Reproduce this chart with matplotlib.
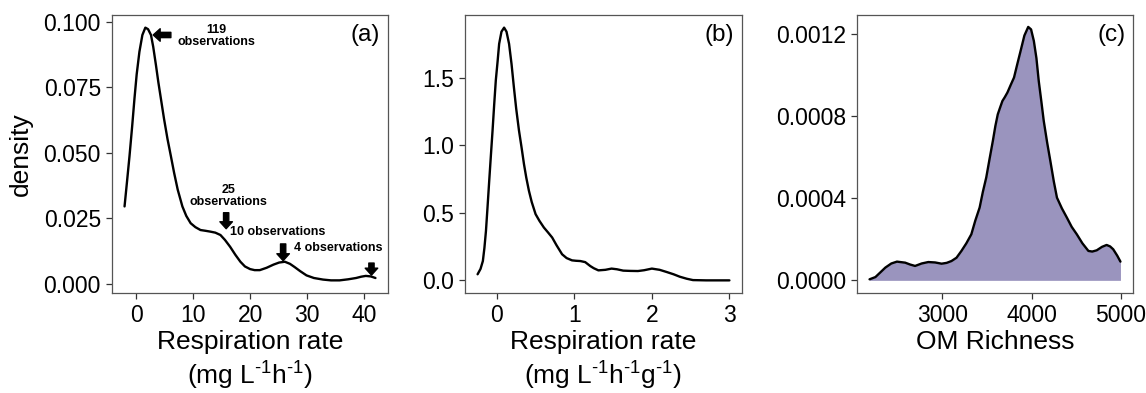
import matplotlib
matplotlib.use('Agg')
import matplotlib.pyplot as plt

plt.rcParams['font.family'] = ['Liberation Sans', 'DejaVu Sans']
plt.rcParams['mathtext.fontset'] = 'custom'
plt.rcParams['mathtext.rm'] = 'Liberation Sans'
plt.rcParams['mathtext.default'] = 'regular'

# (a) respiration rate, mg L-1 h-1
resp_x = [-2.03, -1.6, -1.16, -0.7, -0.29, 0.1, 0.58, 1.1, 1.62, 2.1, 2.61, 3.0, 3.48, 3.9,
          4.35, 4.9, 5.51, 6.1, 6.67, 7.3, 8.12, 8.8, 9.57, 10.4, 11.3, 12.2, 13.0, 13.9,
          14.8, 15.6, 16.5, 17.4, 18.3, 19.1, 20.0, 20.8, 21.7, 22.9, 24.1, 25.1, 26.1,
          27.0, 27.8, 28.8, 29.9, 31.2, 32.8, 34.2, 35.7, 37.2, 38.6, 39.5, 40.3, 41.2, 42.0]
resp_y = [0.0296, 0.0390, 0.0488, 0.0600, 0.0707, 0.0800, 0.0886, 0.0950, 0.0978, 0.0972,
          0.0950, 0.0905, 0.0835, 0.0770, 0.0707, 0.0630, 0.0553, 0.0488, 0.0424, 0.0360,
          0.0296, 0.0260, 0.0232, 0.0217, 0.0206, 0.0203, 0.0200, 0.0196, 0.0187, 0.0168,
          0.0142, 0.0112, 0.0085, 0.0067, 0.0057, 0.0053, 0.0053, 0.0062, 0.0074, 0.0082,
          0.0085, 0.0077, 0.0065, 0.0049, 0.0033, 0.0023, 0.0017, 0.0014, 0.0014, 0.0018,
          0.0023, 0.0028, 0.0031, 0.0029, 0.0023]

# (b) respiration rate per gram, mg L-1 h-1 g-1
respg_x = [-0.248, -0.21, -0.18, -0.16, -0.14, -0.12, -0.098, -0.077, -0.055, -0.034, -0.013,
           0.01, 0.03, 0.06, 0.094, 0.125, 0.158, 0.19, 0.22, 0.25, 0.286, 0.32, 0.35, 0.38,
           0.414, 0.45, 0.5, 0.55, 0.607, 0.66, 0.714, 0.77, 0.842, 0.9, 0.97, 1.02, 1.077,
           1.14, 1.205, 1.25, 1.31, 1.4, 1.48, 1.55, 1.63, 1.72, 1.82, 1.9, 2.0, 2.1, 2.19,
           2.28, 2.36, 2.45, 2.53, 2.7, 2.85, 3.0]
respg_y = [0.045, 0.085, 0.143, 0.24, 0.366, 0.54, 0.737, 0.92, 1.108, 1.30, 1.48,
           1.62, 1.75, 1.84, 1.87, 1.84, 1.75, 1.60, 1.43, 1.27, 1.108, 0.98, 0.861, 0.76,
           0.663, 0.58, 0.49, 0.44, 0.391, 0.355, 0.317, 0.26, 0.193, 0.165, 0.148, 0.145, 0.143,
           0.135, 0.106, 0.09, 0.074, 0.078, 0.087, 0.082, 0.072, 0.070, 0.069, 0.075, 0.087,
           0.078, 0.062, 0.045, 0.027, 0.012, 0.002, 0.0, 0.0, 0.0]

# (c) OM richness
om_x = [2186, 2252, 2310, 2363, 2430, 2493, 2585, 2640, 2696, 2770, 2844, 2920, 2993, 3050,
        3104, 3160, 3215, 3270, 3326, 3370, 3419, 3455, 3493, 3530, 3567, 3595, 3622, 3648,
        3674, 3700, 3730, 3767, 3804, 3840, 3878, 3920, 3963, 3995, 4026, 4055, 4081, 4110,
        4137, 4175, 4211, 4250, 4285, 4340, 4396, 4450, 4507, 4570, 4637, 4680, 4730, 4790,
        4841, 4880, 4915, 4960, 4996]
om_y = [0.000005, 0.000016, 0.000040, 0.000062, 0.000082, 0.000091, 0.000086, 0.000077,
        0.000070, 0.000082, 0.000089, 0.000087, 0.000081, 0.000085, 0.000094, 0.000110,
        0.000143, 0.000180, 0.000224, 0.000290, 0.000354, 0.000430, 0.000500, 0.000590,
        0.000678, 0.000750, 0.000807, 0.000840, 0.000872, 0.000890, 0.000913, 0.000950,
        0.000986, 0.001050, 0.001116, 0.001190, 0.001232, 0.001220, 0.001164, 0.001080,
        0.000969, 0.000870, 0.000775, 0.000670, 0.000580, 0.000480, 0.000402, 0.000350,
        0.000305, 0.000260, 0.000224, 0.000180, 0.000143, 0.000140, 0.000146, 0.000163,
        0.000172, 0.000165, 0.000151, 0.000120, 0.000091]

# annotations in (a): text, text position, arrow tail, arrow tip, alignment
notes = [
    ('119\nobservations', (14.1, 0.0946), (6.1, 0.095), (3.0, 0.095), 'center'),
    ('25\nobservations', (16.2, 0.0335), (15.8, 0.0272), (15.8, 0.0211), 'center'),
    ('10 observations', (16.5, 0.0197), (25.8, 0.0153), (25.8, 0.0089), 'left'),
    ('4 observations', (27.7, 0.0136), (41.3, 0.0080), (41.3, 0.0034), 'left'),
]

fig = plt.figure(figsize=(11.46, 3.93), dpi=100)
ax_a = fig.add_axes([112 / 1146, 100 / 393, 276 / 1146, 278 / 393])
ax_b = fig.add_axes([465 / 1146, 100 / 393, 277 / 1146, 278 / 393])
ax_c = fig.add_axes([857 / 1146, 100 / 393, 276 / 1146, 278 / 393])

line_kw = dict(color='black', lw=1.7, solid_capstyle='round', solid_joinstyle='round')
ax_a.plot(resp_x, resp_y, **line_kw)
ax_b.plot(respg_x, respg_y, **line_kw)
ax_c.fill_between(om_x, 0, om_y, color='#9a94be', lw=0)
ax_c.plot(om_x, om_y, **line_kw)

for txt, tpos, tail, tip, ha in notes:
    ax_a.text(tpos[0], tpos[1], txt, ha=ha, va='center', fontsize=9,
              fontweight='bold', linespacing=0.95)
    ax_a.annotate('', xy=tip, xytext=tail,
                  arrowprops=dict(arrowstyle='simple,head_length=0.5,head_width=0.9,tail_width=0.38',
                                  color='black', mutation_scale=10, shrinkA=0, shrinkB=0))

ax_a.set_yticks([0, 0.025, 0.05, 0.075, 0.1])
ax_a.set_yticklabels(['0.000', '0.025', '0.050', '0.075', '0.100'])
ax_a.set_xticks([0, 10, 20, 30, 40])
ax_b.set_yticks([0, 0.5, 1.0, 1.5])
ax_b.set_yticklabels(['0.0', '0.5', '1.0', '1.5'])
ax_b.set_xticks([0, 1, 2, 3])
ax_c.set_yticks([0, 0.0004, 0.0008, 0.0012])
ax_c.set_yticklabels(['0.0000', '0.0004', '0.0008', '0.0012'])
ax_c.set_xticks([3000, 4000, 5000])
ax_c.set_ylim(-0.0000615, 0.00129)

hy = '\u2010'
ax_a.set_ylabel('density', fontsize=19, labelpad=8)
ax_a.set_xlabel(f'Respiration rate\n(mg L$^{{{hy}1}}$h$^{{{hy}1}}$)',
                fontsize=19, linespacing=1.22, labelpad=2)
ax_b.set_xlabel(f'Respiration rate\n(mg L$^{{{hy}1}}$h$^{{{hy}1}}$g$^{{{hy}1}}$)',
                fontsize=19, linespacing=1.22, labelpad=2)
ax_c.set_xlabel('OM Richness', fontsize=19, labelpad=2)

for ax, tag in zip([ax_a, ax_b, ax_c], ['(a)', '(b)', '(c)']):
    ax.text(0.972, 0.928, tag, transform=ax.transAxes, ha='right', va='center', fontsize=17.5)
    for s in ax.spines.values():
        s.set_color('#555555')
        s.set_linewidth(0.9)
    ax.tick_params(axis='both', labelsize=16.5, length=4, width=0.9, color='#333333',
                   pad=4, labelcolor='black')
    ax.grid(False)

fig.savefig('out.png', dpi=100)
